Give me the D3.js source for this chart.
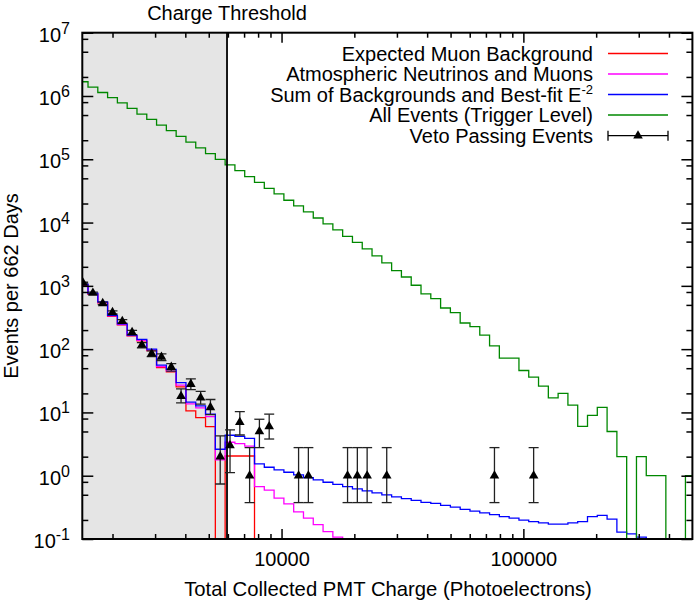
<!DOCTYPE html>
<html><head><meta charset="utf-8">
<script src="https://cdn.jsdelivr.net/npm/d3@7"></script>
<style>
body{margin:0;background:#fff}
svg{display:block}
text{font-family:"Liberation Sans",Arial,Helvetica,sans-serif;fill:#000}
</style>
</head><body>
<svg id="c" width="694" height="601"></svg>
<script>
// ---------------- data ----------------
// histogram binning (log10 of charge): lower edge of bin 0 and bin width
const binLogStart = 3.1592;
const binLogWidth = 0.0405;
const thresholdCharge = 5950;
const xDomain = [1500, 500000];
const yDomain = [0.1, 1e7];
const xMajorTicks = [10000, 100000];
const xTickLabels = ["10000", "100000"];
const xMinorTicks = [2000,3000,4000,5000,6000,7000,8000,9000,20000,30000,40000,50000,60000,70000,80000,90000,200000,300000,400000];
const yExponents = [-1,0,1,2,3,4,5,6,7];
const yMinorMantissas = [2,5,8];

const seriesNames = ["Expected Muon Background","Atmospheric Neutrinos and Muons","Sum of Backgrounds and Best-fit E","All Events (Trigger Level)","Veto Passing Events"];

const muonBackground = [1023,736,537,331,241,162,135,95,51,43.6,
  25.3,10.6,8.28,5.97,0,2.05,2.05,2.05,0,0,
  0,0,0,0,0,0,0,0,0,0,
  0,0,0,0,0,0,0,0,0,0,
  0,0,0,0,0,0,0,0,0,0,
  0,0,0,0,0,0,0,0,0,0,
  0,0,0];
const atmospheric = [1040,748,546,336,245,164,138,97,53,45,
  27,13.6,11.8,8.6,1.78,3.38,3.21,2.93,0.673,0.59,
  0.441,0.359,0.268,0.213,0.169,0.131,0.107,0.085,0.068,0.054,
  0,0,0,0,0,0,0,0,0,0,
  0,0,0,0,0,0,0,0,0,0,
  0,0,0,0,0,0,0,0,0,0,
  0,0,0];
const sumBestFit = [1059,764,557,343,250,167,143,100,56,48,
  29.6,14.5,12.7,9.4,2.62,4.36,4.18,3.88,1.535,1.36,
  1.235,1.135,1.03,0.933,0.859,0.789,0.729,0.67,0.618,0.575,
  0.535,0.498,0.462,0.435,0.407,0.379,0.365,0.34,0.319,0.294,
  0.275,0.258,0.242,0.226,0.213,0.199,0.1875,0.1795,0.172,0.172,
  0.1795,0.188,0.225,0.236,0.206,0.1285,0.1205,0.1067,0.06,0.04,
  0,0,0];
const allEvents = [1.68e6,1.38e6,1.135e6,9.4e5,7.8e5,6.37e5,5.18e5,4.27e5,3.47e5,2.83e5,
  2.30e5,1.87e5,1.51e5,1.225e5,1.0e5,8.13e4,6.6e4,5.31e4,4.33e4,3.48e4,
  2.83e4,2.25e4,1.83e4,1.47e4,1.18e4,9500,7640,6030,4850,3830,
  2970,2300,1738,1381,1023,745,628,447,378,259,
  227,166,113,72,72,46,36,26,17,20,
  13,6,9,12,5,2,0,2,1,1,
  0,0,1];

const vetoBins  = [0,1,2,3,4,5,6,7,8,9,10,11,12,13,14,15,16,17,18,19,22,23,27,28,29,31,42,46];
const vetoCounts= [1107,769,529,381,275,184,116,85,75,52,18,28,17,12,2,3,7,1,5,6,1,1,1,1,1,1,1,1];
const vetoLow   = [1074,741,506,361,258,170,105,76,66,45,14.2,23,13.5,9.2,0.74,1.12,4.4,0.376,2.78,3.8,0.376,0.376,0.376,0.376,0.376,0.376,0.376,0.376];
const vetoHigh  = [1140,797,552,401,292,198,127,94,84,59,23.5,34,21.5,16,4.26,5.3,10.3,2.78,7.8,9.4,2.78,2.78,2.78,2.78,2.78,2.78,2.78,2.78];

const colors = {muon:"#ff0000", atm:"#ff00ff", sum:"#0000ff", all:"#008800"};

// ---------------- chart ----------------
const svg = d3.select("#c");
const M = {left:82.3, right:692.4, top:32.7, bottom:539};
const x = d3.scaleLog().domain(xDomain).range([M.left, M.right]);
const y = d3.scaleLog().domain(yDomain).range([M.bottom, M.top]);

svg.append("defs").append("clipPath").attr("id","clip")
  .append("rect").attr("x",M.left).attr("y",M.top).attr("width",M.right-M.left).attr("height",M.bottom-M.top);

// shaded region below threshold
svg.append("rect").attr("x",x(xDomain[0])).attr("y",M.top)
  .attr("width",x(thresholdCharge)-x(xDomain[0])).attr("height",M.bottom-M.top)
  .attr("fill","#e5e5e5");

const nBins = allEvents.length;
const edges = d3.range(nBins+1).map(i => Math.pow(10, binLogStart + i*binLogWidth));
const centers = d3.range(nBins).map(i => Math.pow(10, binLogStart + (i+0.5)*binLogWidth));

const line = d3.line()
  .x(d => x(d[0]))
  .y(d => d[1] > 0 ? y(d[1]) : M.bottom + 40)
  .curve(d3.curveStepAfter);
function stepData(vals){
  const pts = vals.map((v,i)=>[edges[i], v]);
  pts.push([edges[vals.length], vals[vals.length-1]]);
  return pts;
}
const plotG = svg.append("g").attr("clip-path","url(#clip)");
[[muonBackground,colors.muon],[atmospheric,colors.atm],[sumBestFit,colors.sum],[allEvents,colors.all]].forEach(([vals,col])=>{
  plotG.append("path").attr("d", line(stepData(vals)))
    .attr("fill","none").attr("stroke",col).attr("stroke-width",1.3);
});

// threshold line
svg.append("line").attr("x1",x(thresholdCharge)).attr("x2",x(thresholdCharge))
  .attr("y1",M.top).attr("y2",M.bottom).attr("stroke","#000").attr("stroke-width",1.8);

// veto points with error bars
const tri = d3.symbol(d3.symbolTriangle, 40);
const ptsG = svg.append("g").attr("clip-path","url(#clip)");
vetoBins.forEach((b,i)=>{
  const cx = x(centers[b]);
  const y1 = y(vetoLow[i]), y2 = y(vetoHigh[i]);
  ptsG.append("line").attr("x1",cx).attr("x2",cx).attr("y1",y1).attr("y2",y2).attr("stroke","#222").attr("stroke-width",1.3);
  [y1,y2].forEach(yy=>ptsG.append("line").attr("x1",cx-5).attr("x2",cx+5).attr("y1",yy).attr("y2",yy).attr("stroke","#222").attr("stroke-width",1.3));
  ptsG.append("path").attr("d",tri()).attr("transform",`translate(${cx},${y(vetoCounts[i])})`).attr("fill","#000");
});

// axes (ticks on all four sides, pointing inward)
function styleAxis(g){
  g.select(".domain").remove();
  g.selectAll("line").attr("stroke","#000").attr("stroke-width",1.5);
  g.selectAll("text").attr("font-size",20).attr("font-family",'"Liberation Sans",Arial,sans-serif');
}
svg.append("g").attr("transform",`translate(0,${M.bottom})`)
  .call(d3.axisBottom(x).tickValues(xMajorTicks).tickSizeInner(-10).tickSizeOuter(0).tickPadding(13).tickFormat((d,i)=>xTickLabels[i])).call(styleAxis);
svg.append("g").attr("transform",`translate(0,${M.bottom})`)
  .call(d3.axisBottom(x).tickValues(xMinorTicks).tickSizeInner(-5).tickSizeOuter(0).tickFormat("")).call(styleAxis);
svg.append("g").attr("transform",`translate(0,${M.top})`)
  .call(d3.axisTop(x).tickValues(xMajorTicks).tickSizeInner(-10).tickSizeOuter(0).tickFormat("")).call(styleAxis);
svg.append("g").attr("transform",`translate(0,${M.top})`)
  .call(d3.axisTop(x).tickValues(xMinorTicks).tickSizeInner(-5).tickSizeOuter(0).tickFormat("")).call(styleAxis);

const yMajor = yExponents.map(e=>Math.pow(10,e));
const yMinor = [];
yExponents.slice(0,-1).forEach(e=>yMinorMantissas.forEach(m=>yMinor.push(m*Math.pow(10,e))));
svg.append("g").attr("transform",`translate(${M.left},0)`)
  .call(d3.axisLeft(y).tickValues(yMajor).tickSizeInner(-11).tickSizeOuter(0).tickFormat("")).call(styleAxis);
svg.append("g").attr("transform",`translate(${M.left},0)`)
  .call(d3.axisLeft(y).tickValues(yMinor).tickSizeInner(-6).tickSizeOuter(0).tickFormat("")).call(styleAxis);
svg.append("g").attr("transform",`translate(${M.right},0)`)
  .call(d3.axisRight(y).tickValues(yMajor).tickSizeInner(-11).tickSizeOuter(0).tickFormat("")).call(styleAxis);
svg.append("g").attr("transform",`translate(${M.right},0)`)
  .call(d3.axisRight(y).tickValues(yMinor).tickSizeInner(-6).tickSizeOuter(0).tickFormat("")).call(styleAxis);

// y tick labels 10^n
yExponents.forEach(e=>{
  const t = svg.append("text").attr("x",70).attr("y",y(Math.pow(10,e))+9)
    .attr("text-anchor","end").attr("font-size",20);
  t.append("tspan").text("10");
  t.append("tspan").attr("font-size",16).attr("dy",-8).text(String(e));
});

// frame
svg.append("rect").attr("x",M.left).attr("y",M.top).attr("width",M.right-M.left).attr("height",M.bottom-M.top)
  .attr("fill","none").attr("stroke","#000").attr("stroke-width",2);

// titles
svg.append("text").attr("x",x(thresholdCharge)).attr("y",19.5).attr("text-anchor","middle").attr("font-size",20).text("Charge Threshold");
svg.append("text").attr("x",388).attr("y",596).attr("text-anchor","middle").attr("font-size",20.3).text("Total Collected PMT Charge (Photoelectrons)");
svg.append("text").attr("transform","translate(17.5,286) rotate(-90)").attr("text-anchor","middle").attr("font-size",20).text("Events per 662 Days");

// legend
const legY = [53.5,74,94.5,115,135.7];
const legCols = [colors.muon, colors.atm, colors.sum, colors.all];
const lx1 = 608, lx2 = 668, ltx = 593;
seriesNames.forEach((name,i)=>{
  const t = svg.append("text").attr("x",ltx).attr("y",legY[i]+7).attr("text-anchor","end").attr("font-size",20);
  t.append("tspan").text(name);
  if(i===2){ t.append("tspan").attr("font-size",13).attr("dy",-7.5).text("-2"); }
  if(i<4){
    svg.append("line").attr("x1",lx1).attr("x2",lx2).attr("y1",legY[i]).attr("y2",legY[i]).attr("stroke",legCols[i]).attr("stroke-width",1.3);
  } else {
    svg.append("line").attr("x1",lx1).attr("x2",lx2).attr("y1",legY[i]).attr("y2",legY[i]).attr("stroke","#000").attr("stroke-width",1.3);
    [lx1,lx2].forEach(xx=>svg.append("line").attr("x1",xx).attr("x2",xx).attr("y1",legY[i]-5).attr("y2",legY[i]+5).attr("stroke","#000").attr("stroke-width",1.3));
    svg.append("path").attr("d",tri()).attr("transform",`translate(${(lx1+lx2)/2},${legY[i]})`).attr("fill","#000");
  }
});
</script>
</body></html>
